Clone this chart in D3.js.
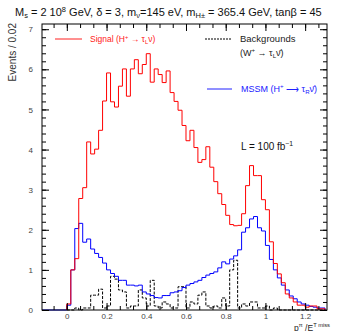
<!DOCTYPE html>
<html>
<head>
<meta charset="utf-8">
<script src="https://cdn.jsdelivr.net/npm/d3@7"></script>
<style>
  body { margin: 0; background: #fff; }
  svg text { font-family: "Liberation Sans", Arial, sans-serif; }
</style>
</head>
<body>
<div class="chart"></div>
<script>
// histogram bins of width 0.02 starting at 0
const binWidth = 0.02;
const signal = [0.15, 1.0, 1.28, 2.78, 3.05, 4.19, 3.89, 4.01, 4.48, 5.21,
  5.91, 5.19, 5.06, 5.58, 6.01, 5.33, 6.01, 6.24, 5.89, 6.12,
  6.39, 5.68, 6.01, 5.87, 5.67, 5.96, 5.42, 5.2, 4.98, 4.6,
  4.22, 4.48, 4.05, 3.68, 3.75, 4.07, 3.56, 3.2, 2.9, 2.63,
  2.36, 2.13, 2.1, 2.11, 2.4, 3.1, 3.6, 3.35, 3.35, 2.75,
  2.5, 1.7, 1.16, 0.9, 0.68, 0.4, 0.3, 0.2, 0.12, 0.12,
  0.07, 0.1, 0.1, 0.03, 0.03];
const mssm = [0.12, 1.0, 2.03, 2.16, 1.69, 1.77, 1.52, 1.41, 1.31, 1.17,
  1.0, 0.91, 0.84, 0.74, 0.74, 0.62, 0.62, 0.6, 0.62, 0.45,
  0.4, 0.36, 0.31, 0.3, 0.36, 0.36, 0.43, 0.45, 0.48, 0.56,
  0.62, 0.66, 0.7, 0.74, 0.81, 0.87, 0.91, 0.95, 1.05, 1.2,
  1.15, 1.27, 1.35, 1.5, 1.94, 2.05, 2.27, 2.33, 2.05, 1.97,
  1.61, 1.26, 1.0, 0.8, 0.62, 0.5, 0.35, 0.28, 0.2, 0.15,
  0.12, 0.09, 0.07, 0.05, 0.05];
const background = [0, 0, 0.05, 0, 0.05, 0.05, 0.37, 0.37, 0.52, 0.05,
  0.1, 0.84, 0.77, 0.5, 0.45, 0.05, 0.1, 0.1, 0.5, 0.3,
  0.1, 0.74, 0.1, 0.05, 0.2, 0.15, 0.05, 0.05, 0.58, 0.58,
  0.05, 0.2, 0.15, 0.37, 0.45, 0.1, 0.05, 0.1, 0.05, 0.3,
  0.1, 1.0, 1.24, 0.05, 0.15, 0.1, 0.2, 0.2, 0.05, 0.05,
  0.1, 0, 0.05, 0, 0, 0, 0, 0, 0, 0,
  0, 0, 0, 0, 0];
const xTickValues = [0, 0.2, 0.4, 0.6, 0.8, 1, 1.2];
const yTickValues = [0, 1, 2, 3, 4, 5, 6, 7];

const width = 350, height = 331;
const plotLeft = 42, plotRight = 327, plotTop = 24, plotBottom = 310;

const svg = d3.select('.chart').append('svg')
  .attr('width', width)
  .attr('height', height);

const xScale = d3.scaleLinear().domain([-0.125, 1.31]).range([plotLeft, plotRight]);
const yScale = d3.scaleLinear().domain([0, 7.13]).range([plotBottom, plotTop]);

// step line for a histogram
function stepPoints(vals, fromMin) {
  const pts = [];
  if (fromMin) pts.push([xScale.domain()[0], 0]);
  pts.push([0, 0]);
  vals.forEach((v, i) => pts.push([i * binWidth, v]));
  const end = vals.length * binWidth;
  pts.push([end, vals[vals.length - 1]]);
  pts.push([end, 0]);
  return pts;
}
const line = d3.line()
  .x(d => xScale(d[0]))
  .y(d => yScale(d[1]))
  .curve(d3.curveStepAfter);

const plot = svg.append('g');
plot.append('path')
  .attr('d', line(stepPoints(background, false)))
  .attr('fill', 'none').attr('stroke', '#000').attr('stroke-width', 1)
  .attr('stroke-dasharray', '3,1.5');
plot.append('path')
  .attr('d', line(stepPoints(mssm, true)))
  .attr('fill', 'none').attr('stroke', '#0000ff').attr('stroke-width', 1);
plot.append('path')
  .attr('d', line(stepPoints(signal, false)))
  .attr('fill', 'none').attr('stroke', '#ff0000').attr('stroke-width', 1);

// axes, ticks pointing inward
const xMinor = d3.range(-2, 20).map(i => i * 0.2 / 3).filter(v => v >= -0.125 && v <= 1.31);
const yMinor = d3.range(0, 36).map(i => i * 0.2).filter(v => v <= 7.13);

function addAxis(axis, tx, ty, cls) {
  const g = svg.append('g').attr('class', cls)
    .attr('transform', `translate(${tx},${ty})`)
    .call(axis);
  g.select('.domain').remove();
  g.selectAll('line').attr('stroke', '#000');
  return g;
}

addAxis(d3.axisBottom(xScale).tickValues(xMinor).tickSize(-4).tickFormat(''), 0, plotBottom, 'x-minor');
addAxis(d3.axisTop(xScale).tickValues(xMinor).tickSize(-4).tickFormat(''), 0, plotTop, 'x-minor-top');
addAxis(d3.axisLeft(yScale).tickValues(yMinor).tickSize(-4).tickFormat(''), plotLeft, 0, 'y-minor');
addAxis(d3.axisRight(yScale).tickValues(yMinor).tickSize(-4).tickFormat(''), plotRight, 0, 'y-minor-right');

const xAxis = addAxis(d3.axisBottom(xScale).tickValues(xTickValues).tickSize(-7).tickPadding(3)
  .tickFormat(d3.format('~g')), 0, plotBottom, 'x-axis');
addAxis(d3.axisTop(xScale).tickValues(xTickValues).tickSize(-7).tickFormat(''), 0, plotTop, 'x-axis-top');
const yAxis = addAxis(d3.axisLeft(yScale).tickValues(yTickValues).tickSize(-7).tickPadding(9)
  .tickFormat(d3.format('d')), plotLeft, 0, 'y-axis');
addAxis(d3.axisRight(yScale).tickValues(yTickValues).tickSize(-7).tickFormat(''), plotRight, 0, 'y-axis-right');

xAxis.selectAll('text').attr('font-size', 8).attr('fill', '#444');
yAxis.selectAll('text').attr('font-size', 8).attr('fill', '#444');

svg.append('rect')
  .attr('x', plotLeft).attr('y', plotTop)
  .attr('width', plotRight - plotLeft).attr('height', plotBottom - plotTop)
  .attr('fill', 'none').attr('stroke', '#000').attr('stroke-width', 1);

// rich text: parts are [text, shift] where shift is 'sub', 'sup' or none
function richText(x, y, size, color, parts) {
  const t = svg.append('text').attr('x', x).attr('y', y)
    .attr('font-size', size).attr('fill', color);
  let prev = 0;
  parts.forEach(p => {
    const shift = p[1] === 'sub' ? size * 0.22 : p[1] === 'sup' ? -size * 0.4 : 0;
    const s = t.append('tspan').attr('dy', shift - prev).text(p[0]);
    if (p[1]) s.attr('font-size', size * 0.68);
    prev = shift;
  });
  return t;
}

// title
richText(15, 16, 11, '#111', [
  ['M'], ['s', 'sub'], [' = 2 10'], ['8', 'sup'], [' GeV, δ = 3, m'], ['ν', 'sub'],
  ['=145 eV, m'], ['H±', 'sub'], [' = 365.4 GeV, tanβ = 45']
]);

// y label
svg.append('text')
  .attr('transform', 'translate(16,23) rotate(-90)')
  .attr('text-anchor', 'end')
  .attr('font-size', 10).attr('fill', '#333')
  .text('Events / 0.02');

// x label
richText(294, 330.5, 8.5, '#222', [['p'], ['π', 'sup'], [' /E'], ['T miss', 'sup']]);

// legend
function legendLine(x1, x2, y, color, dash) {
  svg.append('line').attr('x1', x1).attr('x2', x2).attr('y1', y).attr('y2', y)
    .attr('stroke', color).attr('stroke-width', 1)
    .attr('stroke-dasharray', dash);
}
legendLine(55, 82, 39, '#ff2020', null);
richText(90, 42, 8.5, '#ff2020', [['Signal (H'], ['+', 'sup'], [' → τ'], ['L', 'sub'], ['ν)']]);

legendLine(205, 231, 39, '#000', '2,1');
richText(240, 42, 9.5, '#222', [['Backgrounds']]);
richText(240, 56, 9, '#222', [['(W'], ['+', 'sup'], [' → τ'], ['L', 'sub'], ['ν̄)']]);

legendLine(207, 232, 89, '#2020ff', null);
richText(241, 92, 9, '#2020ff', [['MSSM (H'], ['+', 'sup'], [' ⟶ τ'], ['R', 'sub'], ['ν̄)']]);

richText(241, 150, 10, '#111', [['L = 100 fb'], ['−1', 'sup']]);
</script>
</body>
</html>
